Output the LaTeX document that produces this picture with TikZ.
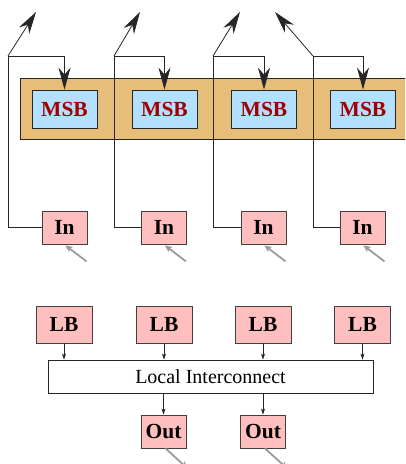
\documentclass[tikz,border=0pt]{standalone}
\usepackage{fontspec}
\setmainfont{Liberation Serif}
\usetikzlibrary{arrows.meta}
\definecolor{bandfill}{HTML}{E6BE7A}
\definecolor{msbfill}{HTML}{B3E0FF}
\definecolor{msbtext}{HTML}{A00000}
\definecolor{pinkfill}{HTML}{FFBFBF}
\definecolor{feedgray}{HTML}{9A9AA2}
\tikzset{
  x=1pt, y=1pt,
  wire/.style={draw=black!85, line width=0.8pt},
  bigtip/.style={wire, -{Stealth[length=22pt, width=12pt, inset=7pt]}},
  smalltip/.style={wire, -{Stealth[length=6pt, width=4pt, inset=1.5pt]}},
  grayarrow/.style={draw=feedgray, line width=1.8pt, -{Stealth[length=7pt, width=6.5pt, inset=2pt]}},
  msbbox/.style={draw=black!85, line width=0.8pt, fill=msbfill, minimum width=65pt, minimum height=38pt,
    inner sep=0pt, font=\fontsize{21.5}{24}\selectfont\bfseries, text=msbtext},
  pinkbox/.style={draw=black!75, line width=0.8pt, fill=pinkfill, minimum height=34pt,
    inner sep=0pt, font=\fontsize{21.5}{24}\selectfont\bfseries},
  inbox/.style={pinkbox, minimum width=45pt, minimum height=33pt},
  lbbox/.style={pinkbox, minimum width=56pt, minimum height=37pt},
  outbox/.style={pinkbox, minimum width=45pt, minimum height=33pt},
}
\begin{document}
\begin{tikzpicture}
\useasboundingbox (0,0) rectangle (405,-464);
\clip (0,0) rectangle (405,-464);

% routing band holding the MSB cells
\node[draw=black!85, line width=0.8pt, fill=bandfill, minimum width=390pt, minimum height=61pt,
  inner sep=0pt, anchor=north west] (band) at (20,-78) {};

% MSB cells
\foreach \i/\x in {1/64.5, 2/164.5, 3/264, 4/363} {
  \node[msbbox] (msb\i) at (\x,-109) {MSB};
}

% input pads
\foreach \i/\x in {1/64.5, 2/164, 3/263.5, 4/362.5} {
  \node[inbox] (in\i) at (\x,-227.5) {In};
}

% routing from each input pad up to its MSB and onward
\foreach \i/\tx/\xl in {1/8/36, 2/114/140, 3/213/240, 4/313/275} {
  \coordinate (turn\i) at (\tx,-56);
  \coordinate (low\i) at (\tx,-227.5);
  \coordinate (top\i) at (\xl,-12);
  \draw[wire] (in\i.west) -- (low\i) -- (turn\i);
  \draw[bigtip] (turn\i) -- (turn\i -| msb\i.north) -- (msb\i.north);
  \draw[bigtip] (turn\i) -- (top\i);
}

% incoming feeds into the input pads
\foreach \i in {1,...,4} {
  \coordinate (feed\i) at ([xshift=22pt,yshift=-17pt]in\i.south);
  \draw[grayarrow] (feed\i) -- ([xshift=1pt,yshift=-1pt]in\i.south);
}

% logic blocks
\foreach \i/\x in {1/64, 2/164, 3/263, 4/362.5} {
  \node[lbbox] (lb\i) at (\x,-324.5) {LB};
}

% local interconnect
\node[draw=black!85, line width=0.8pt, fill=white, minimum width=325pt, minimum height=33pt,
  inner sep=0pt, font=\fontsize{20}{22}\selectfont] (li) at (210.5,-376.5) {Local Interconnect};

\foreach \i in {1,...,4} {
  \draw[smalltip] (lb\i.south) -- (lb\i.south |- li.north);
}

% output pads
\foreach \i/\x in {1/163.5, 2/263} {
  \node[outbox] (out\i) at (\x,-431.5) {Out};
  \draw[smalltip] (out\i.north |- li.south) -- (out\i.north);
  \coordinate (sink\i) at ([xshift=24pt,yshift=-20pt]out\i.south);
  \draw[grayarrow] ([xshift=2pt]out\i.south) -- (sink\i);
}
\end{tikzpicture}
\end{document}
